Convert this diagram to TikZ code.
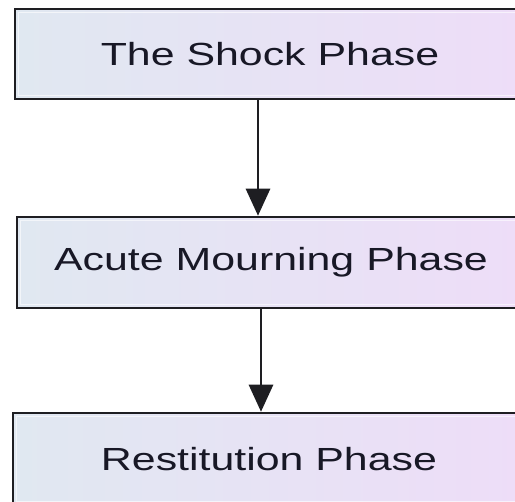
\documentclass[tikz,border=0pt]{standalone}
\usepackage{fontspec}
\usepackage{graphicx}
\setmainfont{Liberation Sans}
\usetikzlibrary{arrows.meta}
\definecolor{boxleft}{RGB}{224,232,241}
\definecolor{boxright}{RGB}{238,221,248}
\definecolor{edge}{RGB}{30,30,34}
\definecolor{ink}{RGB}{24,24,38}
\tikzset{
  phase/.style={draw=edge, line width=2.5pt, rectangle, left color=boxleft,
    right color=boxright, text=ink, inner sep=0pt,
    font=\fontsize{32}{38}\selectfont},
  flow/.style={draw=edge, line width=2.8pt,
    -{Triangle[width=24pt,length=27pt]}},
  bevel/.style={draw=white, line width=1.2pt, opacity=0.6},
}
\newcommand{\widetext}[1]{\scalebox{1.34}[1]{#1}}
\begin{document}
\begin{tikzpicture}[x=1pt,y=-1pt]
  \useasboundingbox[fill=white] (0,0) rectangle (515,502);
  \clip (0,0) rectangle (515,502);
  % the three phase boxes
  \node[phase, minimum width=510pt, minimum height=90pt] (shock) at (270,54)
    {\widetext{The Shock Phase}};
  \node[phase, minimum width=508pt, minimum height=91pt] (acute) at (271,262.5)
    {\widetext{Acute Mourning Phase}};
  \node[phase, minimum width=512pt, minimum height=92pt] (restit) at (269,459)
    {\widetext{Restitution Phase}};
  % faint inner highlight of each box
  \foreach \b in {shock,acute,restit}
    \draw[bevel] ([shift={(5,-5)}]\b.south west) rectangle ([shift={(-5,5)}]\b.north east);
  % connectors
  \draw[flow] (shock.south -| 258,0) -- (acute.north -| 258,0);
  \draw[flow] (acute.south -| 261,0) -- (restit.north -| 261,0);
\end{tikzpicture}
\end{document}
